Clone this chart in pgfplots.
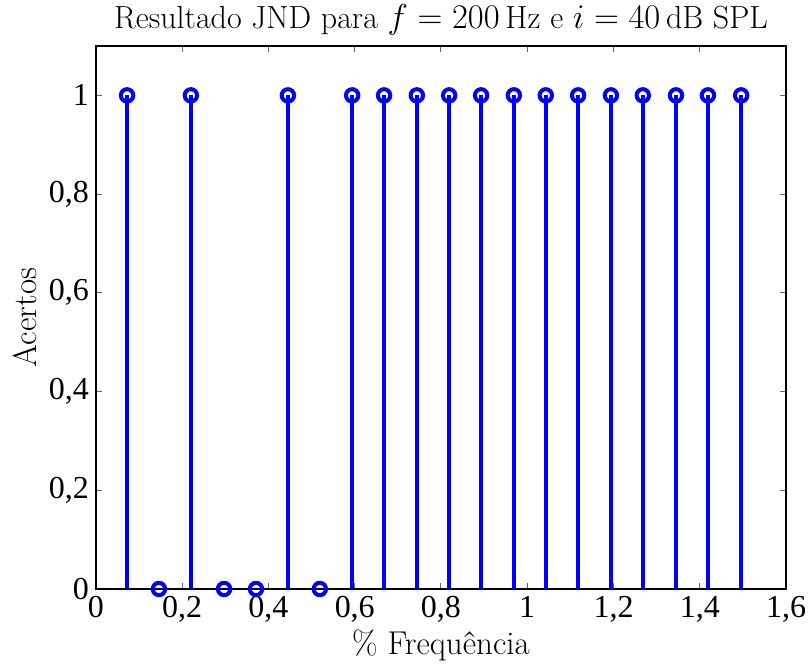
\documentclass[border=0pt]{standalone}
\usepackage{fontspec}
\usepackage{pgfplots}
\pgfplotsset{compat=1.18}
\newfontfamily\tickfont{Liberation Serif}
\begin{document}
\begin{tikzpicture}
\begin{axis}[
  scale only axis, width=345pt, height=271.5pt,
  xmin=0, xmax=1.6, ymin=0, ymax=1.1,
  xtick={0,0.2,0.4,0.6,0.8,1,1.2,1.4,1.6},
  ytick={0,0.2,0.4,0.6,0.8,1},
  tick align=inside,
  major tick length=3pt,
  tick style={black!60, line width=0.5pt},
  axis line style={black, line width=0.8pt},
  /pgf/number format/use comma,
  /pgf/number format/assume math mode=true,
  ticklabel style={font=\tickfont\fontsize{16}{18}\selectfont},
  title={Resultado JND para $f = 200\,\mathrm{Hz}$ e $i = 40\,\mathrm{dB}$ SPL},
  title style={font=\fontsize{16}{18}\selectfont, yshift=-4pt},
  xlabel={\% Frequência}, ylabel={Acertos},
  label style={font=\fontsize{16.5}{18}\selectfont},
  xlabel style={yshift=3pt},
  ylabel style={yshift=-1pt},
  clip=false,
]
\addplot[ycomb, color=blue, line width=2pt, mark=o, mark size=3.1pt, mark options={line width=2pt}] coordinates {
(0.072,1) (0.146,0) (0.220,1) (0.297,0) (0.371,0) (0.445,1) (0.519,0)
(0.594,1) (0.668,1) (0.744,1) (0.819,1) (0.893,1) (0.969,1) (1.043,1)
(1.118,1) (1.194,1) (1.268,1) (1.345,1) (1.419,1) (1.496,1)
};
\end{axis}
\pgfresetboundingbox
\path (current axis.south west) +(-48pt,-37.5pt) (current axis.north east) +(12pt,23pt);
\end{tikzpicture}
\end{document}
